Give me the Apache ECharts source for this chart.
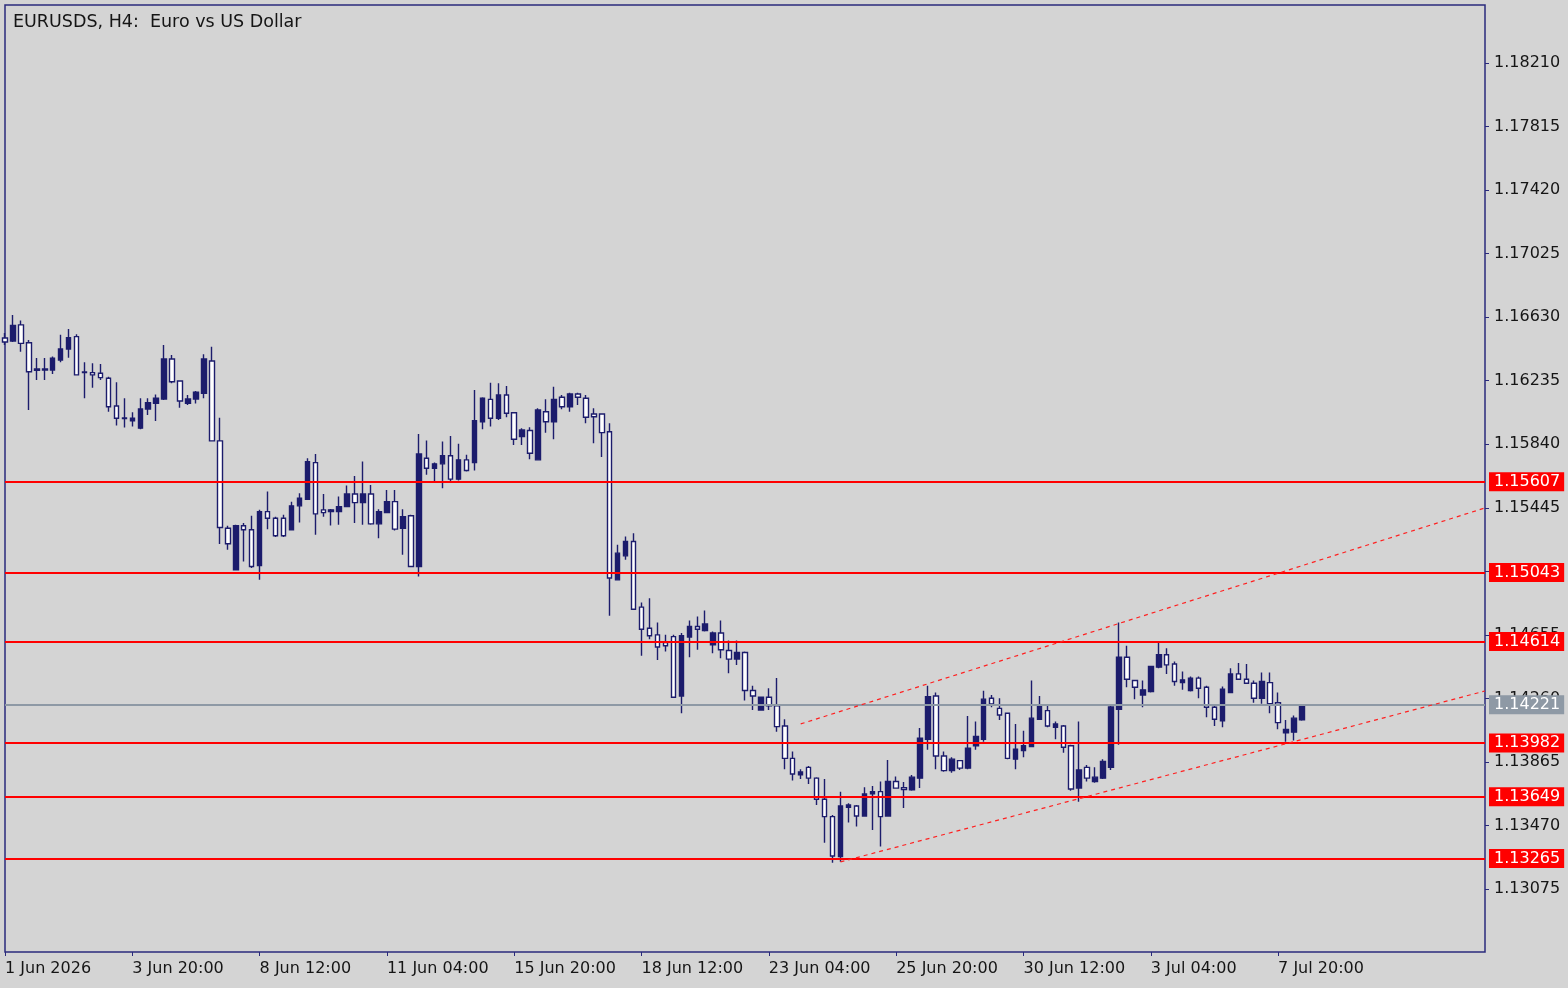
<!DOCTYPE html>
<html>
<head>
<meta charset="utf-8">
<script src="https://cdn.jsdelivr.net/npm/echarts@6/dist/echarts.min.js"></script>
<style>
html, body { margin: 0; padding: 0; background: #d4d4d4; }
#chart { width: 1568px; height: 988px; }
</style>
</head>
<body>
<div id="chart"></div>
<script>
"use strict";
// EURUSD H4 bars, 1 Jun 2026 04:00 .. 8 Jul 2026 08:00
const opens = [
    1.16501, 1.16482, 1.16582, 1.16471, 1.16299, 1.16308, 1.16302, 1.16364, 1.16432, 1.16509,
    1.16290, 1.16285, 1.16281, 1.16250, 1.16078, 1.16003, 1.15985, 1.15940, 1.16059, 1.16094,
    1.16121, 1.16370, 1.16233, 1.16094, 1.16121, 1.16156, 1.16358, 1.15861, 1.15318, 1.15060,
    1.15333, 1.15308, 1.15085, 1.15421, 1.15380, 1.15380, 1.15308, 1.15457, 1.15498, 1.15726,
    1.15432, 1.15421, 1.15421, 1.15452, 1.15531, 1.15477, 1.15531, 1.15345, 1.15415, 1.15483,
    1.15318, 1.15395, 1.15080, 1.15753, 1.15691, 1.15718, 1.15768, 1.15623, 1.15743, 1.15726,
    1.15980, 1.16119, 1.16002, 1.16146, 1.16036, 1.15888, 1.15925, 1.15743, 1.16042, 1.15980,
    1.16132, 1.16073, 1.16152, 1.16126, 1.16028, 1.16028, 1.15918, 1.14997, 1.15146, 1.15235,
    1.14827, 1.14696, 1.14655, 1.14607, 1.14644, 1.14275, 1.14641, 1.14707, 1.14682, 1.14593,
    1.14666, 1.14558, 1.14504, 1.14545, 1.14309, 1.14188, 1.14267, 1.14213, 1.14088, 1.13887,
    1.13784, 1.13831, 1.13764, 1.13633, 1.13525, 1.13276, 1.13583, 1.13591, 1.13529, 1.13666,
    1.13680, 1.13529, 1.13743, 1.13705, 1.13691, 1.13764, 1.14006, 1.14275, 1.13902, 1.13811,
    1.13873, 1.13826, 1.13965, 1.14006, 1.14261, 1.14198, 1.14167, 1.13882, 1.13935, 1.13960,
    1.14130, 1.14184, 1.14080, 1.14088, 1.13965, 1.13702, 1.13831, 1.13743, 1.13764, 1.13832,
    1.14192, 1.14516, 1.14371, 1.14281, 1.14302, 1.14454, 1.14531, 1.14474, 1.14358, 1.14309,
    1.14386, 1.14329, 1.14205, 1.14121, 1.14296, 1.14412, 1.14379, 1.14354, 1.14261, 1.14358,
    1.14233, 1.14046, 1.14050, 1.14126
];
const highs = [
    1.16532, 1.16644, 1.16609, 1.16488, 1.16376, 1.16376, 1.16385, 1.16520, 1.16557, 1.16524,
    1.16350, 1.16344, 1.16339, 1.16260, 1.16226, 1.16126, 1.16039, 1.16126, 1.16126, 1.16150,
    1.16457, 1.16395, 1.16233, 1.16146, 1.16171, 1.16399, 1.16446, 1.16005, 1.15333, 1.15339,
    1.15350, 1.15395, 1.15432, 1.15546, 1.15389, 1.15401, 1.15483, 1.15536, 1.15753, 1.15780,
    1.15531, 1.15438, 1.15515, 1.15583, 1.15643, 1.15732, 1.15587, 1.15436, 1.15556, 1.15556,
    1.15436, 1.15401, 1.15904, 1.15863, 1.15726, 1.15857, 1.15892, 1.15843, 1.15774, 1.16177,
    1.16132, 1.16223, 1.16219, 1.16202, 1.16036, 1.15940, 1.15946, 1.16064, 1.16119, 1.16198,
    1.16146, 1.16160, 1.16160, 1.16146, 1.16064, 1.16033, 1.15970, 1.15215, 1.15266, 1.15287,
    1.14856, 1.14883, 1.14731, 1.14655, 1.14655, 1.14666, 1.14744, 1.14769, 1.14806, 1.14675,
    1.14744, 1.14620, 1.14620, 1.14551, 1.14338, 1.14271, 1.14323, 1.14386, 1.14130, 1.13929,
    1.13819, 1.13840, 1.13770, 1.13758, 1.13535, 1.13680, 1.13608, 1.13597, 1.13708, 1.13715,
    1.13743, 1.13877, 1.13774, 1.13740, 1.13784, 1.14075, 1.14338, 1.14296, 1.13929, 1.13894,
    1.13877, 1.14151, 1.14116, 1.14308, 1.14281, 1.14261, 1.14171, 1.14101, 1.14059, 1.14371,
    1.14275, 1.14225, 1.14116, 1.14095, 1.13971, 1.14116, 1.13846, 1.13831, 1.13882, 1.14219,
    1.14731, 1.14587, 1.14375, 1.14371, 1.14462, 1.14614, 1.14572, 1.14489, 1.14427, 1.14396,
    1.14396, 1.14338, 1.14219, 1.14334, 1.14448, 1.14480, 1.14474, 1.14371, 1.14421, 1.14421,
    1.14296, 1.14126, 1.14154, 1.14225
];
const lows = [
    1.16457, 1.16476, 1.16415, 1.16053, 1.16240, 1.16240, 1.16277, 1.16350, 1.16378, 1.16267,
    1.16126, 1.16192, 1.16240, 1.16042, 1.15956, 1.15944, 1.15950, 1.15933, 1.16022, 1.15985,
    1.16115, 1.16219, 1.16067, 1.16084, 1.16094, 1.16126, 1.15861, 1.15219, 1.15184, 1.15056,
    1.15111, 1.15070, 1.14997, 1.15312, 1.15263, 1.15263, 1.15303, 1.15353, 1.15494, 1.15277,
    1.15389, 1.15334, 1.15339, 1.15448, 1.15350, 1.15339, 1.15339, 1.15256, 1.15411, 1.15303,
    1.15153, 1.15076, 1.15018, 1.15650, 1.15608, 1.15566, 1.15602, 1.15615, 1.15670, 1.15677,
    1.15933, 1.15950, 1.15991, 1.16008, 1.15836, 1.15836, 1.15747, 1.15739, 1.15912, 1.15871,
    1.16057, 1.16042, 1.16084, 1.15971, 1.15846, 1.15761, 1.14773, 1.14993, 1.15122, 1.14810,
    1.14525, 1.14628, 1.14499, 1.14551, 1.14263, 1.14168, 1.14516, 1.14562, 1.14675, 1.14541,
    1.14510, 1.14416, 1.14468, 1.14246, 1.14188, 1.14184, 1.14188, 1.14053, 1.13819, 1.13749,
    1.13758, 1.13728, 1.13597, 1.13363, 1.13238, 1.13244, 1.13488, 1.13463, 1.13525, 1.13442,
    1.13339, 1.13525, 1.13702, 1.13578, 1.13686, 1.13702, 1.13940, 1.13819, 1.13804, 1.13798,
    1.13815, 1.13819, 1.13940, 1.13991, 1.14205, 1.14126, 1.13882, 1.13819, 1.13894, 1.13957,
    1.14126, 1.14080, 1.14006, 1.13922, 1.13686, 1.13617, 1.13743, 1.13736, 1.13758, 1.13815,
    1.13971, 1.14329, 1.14255, 1.14205, 1.14296, 1.14448, 1.14412, 1.14338, 1.14313, 1.14302,
    1.14261, 1.14143, 1.14088, 1.14080, 1.14292, 1.14375, 1.14350, 1.14233, 1.14227, 1.14168,
    1.14068, 1.13991, 1.13998, 1.14121
];
const closes = [
    1.16476, 1.16578, 1.16467, 1.16291, 1.16308, 1.16302, 1.16375, 1.16432, 1.16502, 1.16271,
    1.16286, 1.16271, 1.16254, 1.16073, 1.16002, 1.16000, 1.16002, 1.16059, 1.16098, 1.16126,
    1.16370, 1.16229, 1.16109, 1.16121, 1.16163, 1.16370, 1.15861, 1.15322, 1.15221, 1.15333,
    1.15308, 1.15080, 1.15421, 1.15380, 1.15271, 1.15271, 1.15457, 1.15505, 1.15732, 1.15407,
    1.15415, 1.15432, 1.15452, 1.15531, 1.15477, 1.15531, 1.15345, 1.15421, 1.15483, 1.15312,
    1.15390, 1.15080, 1.15780, 1.15691, 1.15718, 1.15768, 1.15623, 1.15743, 1.15677, 1.15987,
    1.16126, 1.16002, 1.16146, 1.16033, 1.15871, 1.15929, 1.15784, 1.16053, 1.15980, 1.16119,
    1.16073, 1.16152, 1.16132, 1.16008, 1.16011, 1.15912, 1.15008, 1.15163, 1.15235, 1.14814,
    1.14690, 1.14649, 1.14579, 1.14587, 1.14267, 1.14649, 1.14707, 1.14690, 1.14723, 1.14666,
    1.14562, 1.14504, 1.14545, 1.14309, 1.14275, 1.14267, 1.14213, 1.14084, 1.13887, 1.13790,
    1.13802, 1.13764, 1.13633, 1.13525, 1.13280, 1.13591, 1.13597, 1.13529, 1.13666, 1.13680,
    1.13525, 1.13743, 1.13702, 1.13693, 1.13770, 1.14013, 1.14271, 1.13902, 1.13811, 1.13882,
    1.13826, 1.13950, 1.14023, 1.14255, 1.14225, 1.14157, 1.13887, 1.13944, 1.13965, 1.14137,
    1.14219, 1.14088, 1.14101, 1.13956, 1.13696, 1.13815, 1.13764, 1.13770, 1.13867, 1.14206,
    1.14516, 1.14379, 1.14329, 1.14313, 1.14458, 1.14531, 1.14468, 1.14365, 1.14375, 1.14386,
    1.14323, 1.14205, 1.14130, 1.14317, 1.14412, 1.14379, 1.14354, 1.14261, 1.14365, 1.14227,
    1.14109, 1.14067, 1.14137, 1.14221
];

// trading days shown on the time axis (weekends skipped), 6 bars a day
const tradingDays = [
    '1 Jun', '2 Jun', '3 Jun', '4 Jun', '5 Jun', '8 Jun', '9 Jun', '10 Jun', '11 Jun', '12 Jun',
    '15 Jun', '16 Jun', '17 Jun', '18 Jun', '19 Jun', '22 Jun', '23 Jun', '24 Jun', '25 Jun', '26 Jun',
    '29 Jun', '30 Jun', '1 Jul', '2 Jul', '3 Jul', '6 Jul', '7 Jul', '8 Jul', '9 Jul', '10 Jul',
    '13 Jul', '14 Jul'
];
const barHours = ['00:00', '04:00', '08:00', '12:00', '16:00', '20:00'];
const tickLabels = [
    '1 Jun 2026', '3 Jun 20:00', '8 Jun 12:00', '11 Jun 04:00', '15 Jun 20:00', '18 Jun 12:00',
    '23 Jun 04:00', '25 Jun 20:00', '30 Jun 12:00', '3 Jul 04:00', '7 Jul 20:00'
];
const tickEvery = 16;
const slotCount = 187;   // bars across the whole window, future slots stay empty

const yTicks = [
    1.13075, 1.13470, 1.13865, 1.14260, 1.14655, 1.15050, 1.15445,
    1.15840, 1.16235, 1.16630, 1.17025, 1.17420, 1.17815, 1.18210
];
const levels = [1.15607, 1.15043, 1.14614, 1.13982, 1.13649, 1.13265];
const lastPrice = 1.14221;
// channel lines: [bar index, price] pairs
const upperChannel = [[100, 1.14101], [186, 1.15444]];
const lowerChannel = [[105, 1.13243], [186, 1.14306]];

const font = 'DejaVu Sans';
const navy = '#1c1c6c';
const textColor = '#151515';

let categories = [];
tradingDays.forEach(d => barHours.forEach(h => categories.push(d + ' ' + h)));
categories = categories.slice(1, 1 + slotCount);

const candles = opens.map((o, i) => [o, closes[i], lows[i], highs[i]]);

const levelMarks = levels.map(v => ({
    yAxis: v,
    lineStyle: { color: '#ff0000', width: 2, type: 'solid' },
    label: { backgroundColor: '#ff0000', color: '#ffffff' }
}));
levelMarks.push({
    yAxis: lastPrice,
    lineStyle: { color: '#8e99a5', width: 2, type: 'solid' },
    label: { backgroundColor: '#8e99a5', color: '#ffffff' }
});
const channelMarks = [upperChannel, lowerChannel].map(pts => [
    { coord: pts[0], lineStyle: { color: '#ff2020', width: 1.2, type: [4, 4] }, label: { show: false } },
    { coord: pts[1] }
]);

const container = document.getElementById('chart');
const myChart = echarts.init(container);
const option = {
    backgroundColor: '#d4d4d4',
    animation: false,
    title: {
        text: 'EURUSDS, H4:  Euro vs US Dollar',
        left: 8,
        top: 8,
        textStyle: { fontFamily: font, fontSize: 17.5, fontWeight: 'normal', color: textColor }
    },
    grid: {
        left: 5,
        right: 83,
        top: 5,
        bottom: 36,
        show: true,
        borderColor: '#2a2a7c',
        borderWidth: 1.5,
        backgroundColor: 'transparent'
    },
    xAxis: {
        type: 'category',
        data: categories,
        boundaryGap: false,
        axisLine: { show: false },
        axisTick: {
            show: true,
            length: 4,
            interval: (i) => i % tickEvery === 0 && i / tickEvery < tickLabels.length,
            lineStyle: { color: '#2a2a7c' }
        },
        axisLabel: {
            interval: (i) => i % tickEvery === 0 && i / tickEvery < tickLabels.length,
            formatter: (v, i) => tickLabels[i / tickEvery],
            align: 'left',
            margin: 9,
            fontFamily: font,
            fontSize: 16,
            color: textColor
        },
        splitLine: { show: false }
    },
    yAxis: {
        type: 'value',
        position: 'right',
        min: 1.12683,
        max: 1.18571,
        scale: true,
        axisLine: { show: false },
        axisTick: {
            show: true,
            length: 4,
            customValues: yTicks,
            lineStyle: { color: '#2a2a7c' }
        },
        axisLabel: {
            customValues: yTicks,
            formatter: (v) => v.toFixed(5),
            margin: 9,
            fontFamily: font,
            fontSize: 16,
            color: textColor
        },
        splitLine: { show: false }
    },
    series: [
        {
            type: 'candlestick',
            data: candles,
            barWidth: 5,
            clip: true,
            itemStyle: {
                color: navy,
                color0: '#ffffff',
                borderColor: navy,
                borderColor0: navy,
                borderWidth: 1.4
            }
        },
        {
            type: 'line',
            data: [],
            clip: false,
            z: 5,
            markLine: {
                silent: true,
                symbol: ['none', 'none'],
                precision: 5,
                animation: false,
                label: {
                    show: true,
                    position: 'end',
                    distance: 4,
                    formatter: (p) => Number(p.value).toFixed(5),
                    fontFamily: font,
                    fontSize: 16,
                    padding: [2, 4, 1, 5]
                },
                data: levelMarks.concat(channelMarks)
            }
        }
    ]
};
myChart.setOption(option);
</script>
</body>
</html>
